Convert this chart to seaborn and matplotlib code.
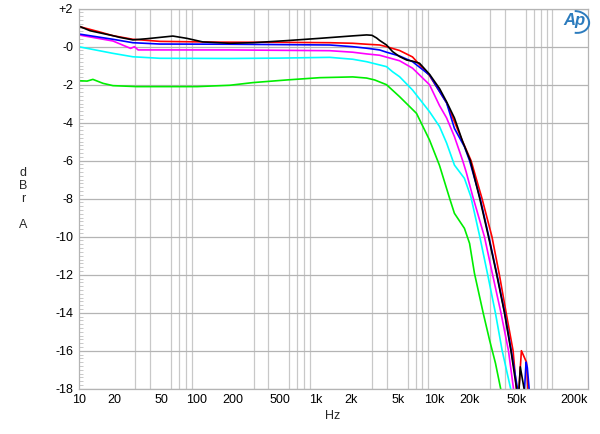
import numpy as np
import pandas as pd
import matplotlib
matplotlib.use("Agg")
import matplotlib.pyplot as plt
import seaborn as sns
from matplotlib.ticker import FixedLocator, LogLocator, MultipleLocator, NullFormatter
from matplotlib.patches import Arc

# frequency response traces (Hz, dBr)
freq_red = [10, 15, 19.5, 28.7, 48.6, 156, 500, 1318, 2063, 2705, 3480, 3980, 5130, 6600, 9180,
            12800, 17100, 20600, 25500, 30900, 35700, 40700, 46600, 49700, 50500, 52000, 54800,
            60400, 63000]
db_red = [1.07, 0.78, 0.58, 0.39, 0.28, 0.24, 0.23, 0.21, 0.18, 0.13, 0.09, 0.0, -0.2, -0.54, -1.52,
          -2.95, -4.85, -6.0, -8.0, -10.0, -12.0, -14.0, -16.0, -18.0, -18.8, -18.2, -16.0,
          -16.6, -18.6]

freq_blue = [10, 19.5, 28.7, 48.6, 189, 1318, 2063, 2705, 3480, 3980, 5130, 6600, 9180, 12800,
             14900, 18100, 20000, 24600, 29100, 34100, 39600, 45000, 50800, 52000, 57500, 60000,
             61500, 64500]
db_blue = [0.67, 0.39, 0.21, 0.14, 0.13, 0.09, 0.0, -0.08, -0.17, -0.29, -0.49, -0.79, -1.49, -2.96,
           -4.3, -5.26, -6.0, -8.0, -10.0, -12.0, -14.0, -16.0, -18.0, -18.7, -18.6, -16.6,
           -16.9, -18.4]

freq_magenta = [10, 19.5, 27.5, 29.6, 31.8, 60, 189, 1318, 2063, 2705, 3480, 3980, 5130, 6600,
                9180, 11150, 12800, 14900, 17500, 18700, 21300, 26700, 31300, 36800, 42600,
                47100, 48000]
db_magenta = [0.62, 0.3, -0.09, 0.0, -0.17, -0.17, -0.17, -0.21, -0.29, -0.38, -0.45, -0.55, -0.74,
              -1.13, -2.0, -3.1, -3.75, -4.73, -6.0, -6.58, -7.89, -10.0, -12.0, -14.0, -16.0,
              -18.05, -18.6]

freq_cyan = [10, 19.5, 28.7, 48.6, 189, 500, 1318, 2063, 2705, 3980, 4480, 5130, 6600, 9180,
             11150, 12800, 14900, 18100, 20500, 24400, 28300, 33100, 37600, 44700, 46000]
db_cyan = [0.0, -0.35, -0.53, -0.61, -0.62, -0.6, -0.56, -0.66, -0.79, -1.05, -1.32, -1.58, -2.28,
           -3.42, -4.2, -5.07, -6.23, -6.93, -7.89, -10.0, -11.93, -14.03, -15.96, -18.07, -18.7]

freq_green = [10, 11.8, 13.2, 16.1, 19.5, 31, 100, 189, 296, 572, 1086, 2063, 2700, 3160, 3980,
              5130, 7130, 9180, 11150, 13600, 14900, 18100, 20000, 22000, 26100, 29500, 33100,
              36800, 38000]
db_green = [-1.79, -1.81, -1.72, -1.93, -2.05, -2.1, -2.1, -2.03, -1.89, -1.75, -1.63, -1.59, -1.65,
            -1.75, -2.0, -2.63, -3.51, -4.91, -6.25, -8.0, -8.77, -9.56, -10.35, -11.93, -14.03,
            -15.44, -16.66, -18.07, -18.7]

freq_black = [10, 12.5, 19.5, 22.3, 28.7, 37.7, 62.5, 82, 112, 189, 296, 572, 1086, 2063, 2705,
              3000, 3280, 3480, 3980, 4480, 5130, 5880, 6600, 7560, 9180, 11150, 12800, 14900,
              17500, 20300, 24400, 28900, 33900, 39400, 44700, 49900, 51000, 52000, 53600,
              58100, 59000]
db_black = [1.09, 0.84, 0.58, 0.49, 0.36, 0.42, 0.56, 0.44, 0.25, 0.18, 0.21, 0.32, 0.44, 0.57, 0.62,
            0.6, 0.46, 0.33, 0.09, -0.26, -0.52, -0.7, -0.76, -0.87, -1.45, -2.2, -2.9, -3.75,
            -5.0, -6.0, -8.0, -10.0, -12.0, -14.0, -16.0, -18.0, -18.6, -18.4, -16.85,
            -18.1, -18.8]

trace_order = ["green", "cyan", "magenta", "red", "blue", "black"]
trace_colors = {"red": "#ff0000", "blue": "#0000ff", "magenta": "#ff00ff",
                "cyan": "#00ffff", "green": "#00ee00", "black": "#000000"}

x_ticks = [10, 20, 50, 100, 200, 500, 1000, 2000, 5000, 10000, 20000, 50000, 200000]
x_labels = ["10", "20", "50", "100", "200", "500", "1k", "2k", "5k", "10k", "20k", "50k", "200k"]
y_ticks = list(range(2, -19, -2))
y_labels = ["+2", "-0"] + [f"-{abs(v)}" for v in y_ticks[2:]]

traces = {
    "red": (freq_red, db_red),
    "blue": (freq_blue, db_blue),
    "magenta": (freq_magenta, db_magenta),
    "cyan": (freq_cyan, db_cyan),
    "green": (freq_green, db_green),
    "black": (freq_black, db_black),
}
df = pd.concat(
    [pd.DataFrame({"freq": f, "dbr": d, "trace": name}) for name, (f, d) in traces.items()],
    ignore_index=True,
)

sns.set_theme(style="white")
plt.rcParams["font.family"] = ["Liberation Sans", "DejaVu Sans"]

fig = plt.figure(figsize=(6, 4.34), dpi=100)
ax = fig.add_axes([78.6 / 600, 1 - 388.7 / 434, (588 - 78.6) / 600, 380 / 434])

sns.lineplot(data=df, x="freq", y="dbr", hue="trace", hue_order=trace_order,
             palette=trace_colors, sort=False, estimator=None, legend=False,
             linewidth=1.2, ax=ax)

ax.set_xscale("log")
ax.set_xlim(10, 200000)
ax.set_ylim(-18, 2)

ax.xaxis.set_major_locator(FixedLocator(x_ticks))
ax.set_xticklabels(x_labels)
ax.xaxis.set_minor_locator(LogLocator(base=10, subs=np.arange(1, 10)))
ax.xaxis.set_minor_formatter(NullFormatter())
ax.yaxis.set_major_locator(FixedLocator(y_ticks))
ax.set_yticklabels(y_labels)
ax.yaxis.set_minor_locator(MultipleLocator(0.2))

ax.grid(which="minor", axis="x", color="#c8c8c8", linewidth=0.9)
ax.grid(which="major", axis="y", color="#b4b4b4", linewidth=0.9)
ax.set_axisbelow(True)

ax.tick_params(axis="both", which="major", length=0, labelsize=9, colors="black")
ax.tick_params(axis="x", which="major", pad=4)
ax.tick_params(axis="y", which="major", pad=4)
ax.tick_params(axis="x", which="minor", length=0)
ax.tick_params(axis="y", which="minor", direction="in", length=3, width=0.6,
               color="#c0c0c0", left=True, right=False)
ax.get_xticklabels()[-1].set_horizontalalignment("right")

for sp in ax.spines.values():
    sp.set_color("#b4b4b4")
    sp.set_linewidth(0.9)

ax.set_xlabel("")
ax.set_ylabel("")
fig.text(0.555, 1 - 416 / 434, "Hz", ha="center", va="center", fontsize=9)
fig.text(23 / 600, 1 - 199 / 434, "d\nB\nr\n\nA", ha="center", va="center",
         fontsize=9, linespacing=1.1)

# Ap logo
fig.text(574 / 600, 1 - 21 / 434, "Ap", ha="center", va="center", fontsize=12,
         fontstyle="italic", fontweight="bold", color="#2b7bbd")
fig.patches.append(Arc((576 / 600, 1 - 22 / 434), 26 / 600, 22 / 434, angle=15,
                       theta1=250, theta2=80, transform=fig.transFigure,
                       color="#2b7bbd", linewidth=1.4))

plt.savefig("out.png", dpi=100)
